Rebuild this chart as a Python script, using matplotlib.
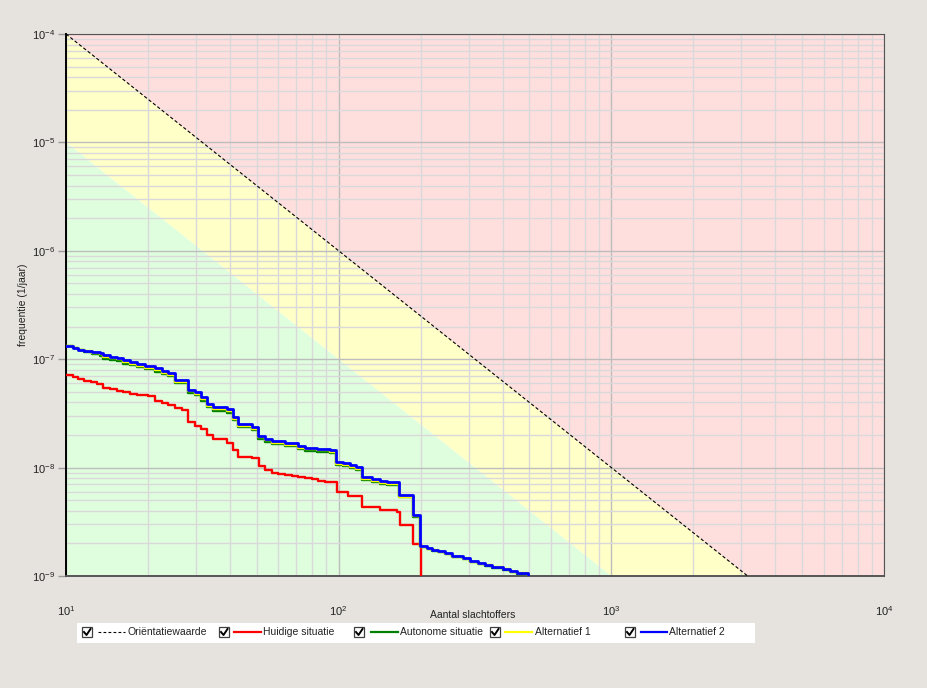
import matplotlib
matplotlib.use("Agg")
import matplotlib.pyplot as plt
from matplotlib.lines import Line2D
from matplotlib.patches import Rectangle
from matplotlib.ticker import NullFormatter
import numpy as np

plt.rcParams["font.family"] = ["Liberation Sans", "DejaVu Sans"]

W, H = 928, 688

# orientatiewaarde: F = C / N^2, yellow band one decade below it
ORIENT_C = 1e-2
BAND_C = 1e-3

# Alternatief 2 / Alternatief 1 / Autonome situatie share the same N steps
n_alt = [10, 10.6, 11.1, 11.6, 12.5, 13.3, 13.7, 14.5, 15.4, 16.2,
         17.2, 18.2, 19.5, 21.2, 22.5, 23.7, 25.1, 28.0, 29.7, 31.3,
         32.9, 34.6, 39.0, 41.0, 42.7, 48.1, 50.6, 53.7, 56.9, 63.6,
         70.9, 75.2, 83.3, 92.9, 97.7, 103.7, 110, 115.7, 121.7, 132.5,
         141.7, 150.4, 166.4, 187.3, 198.7, 210.8, 219.9, 231.3, 245.4, 260.3,
         285.7, 303, 324.2, 344, 364.9, 400.5, 424.9, 450.7, 494.5]

f_alt2 = [1.32, 1.27, 1.22, 1.19, 1.16, 1.14, 1.09, 1.05, 1.03, 0.98,
          0.94, 0.90, 0.865, 0.83, 0.78, 0.746, 0.643, 0.52, 0.498, 0.448,
          0.386, 0.362, 0.347, 0.293, 0.252, 0.237, 0.196, 0.184, 0.176, 0.169,
          0.158, 0.152, 0.149, 0.145, 0.113, 0.110, 0.106, 0.101, 0.082, 0.0785,
          0.0752, 0.0736, 0.0559, 0.0366, 0.0189, 0.0181, 0.0174, 0.0170, 0.0163, 0.0153,
          0.0147, 0.0138, 0.0132, 0.0126, 0.0121, 0.0116, 0.0111, 0.0107, 0.0100]

f_alt1 = [1.32, 1.27, 1.22, 1.18, 1.14, 1.11, 1.05, 1.015, 0.995, 0.945,
          0.905, 0.87, 0.835, 0.80, 0.75, 0.72, 0.62, 0.505, 0.48, 0.432,
          0.372, 0.35, 0.335, 0.283, 0.244, 0.229, 0.19, 0.178, 0.17, 0.163,
          0.153, 0.147, 0.144, 0.14, 0.109, 0.106, 0.102, 0.098, 0.079, 0.076,
          0.0727, 0.0712, 0.054, 0.0357, 0.0186, 0.0179, 0.0172, 0.0168, 0.0161, 0.0151,
          0.0145, 0.0136, 0.0130, 0.0125, 0.0120, 0.0115, 0.0110, 0.0106, 0.0100]

f_auto = [1.32, 1.27, 1.21, 1.17, 1.12, 1.08, 1.01, 0.98, 0.96, 0.91,
          0.875, 0.84, 0.805, 0.77, 0.725, 0.695, 0.60, 0.49, 0.465, 0.415,
          0.36, 0.336, 0.322, 0.272, 0.236, 0.22, 0.183, 0.171, 0.164, 0.158,
          0.148, 0.142, 0.139, 0.136, 0.106, 0.103, 0.0995, 0.095, 0.0775, 0.074,
          0.071, 0.0695, 0.053, 0.035, 0.0185, 0.0177, 0.0170, 0.0166, 0.0160, 0.0150,
          0.0144, 0.0135, 0.0129, 0.0124, 0.0119, 0.0114, 0.0109, 0.0105, 0.0100]

# Huidige situatie, drops to zero at N=200 (tiny value stands in for zero on log axis)
n_huidig = [10, 10.6, 11.1, 11.6, 12.4, 13.0, 13.7, 14.5, 15.4, 16.2,
            17.2, 18.2, 20.0, 21.2, 22.5, 23.7, 25.1, 26.6, 28.0, 29.7,
            31.3, 32.9, 34.6, 39.0, 41.0, 42.7, 48.1, 51.0, 53.7, 56.9,
            60.0, 63.6, 67.4, 70.9, 75.2, 79.8, 84.0, 89.1, 98.6, 108.2,
            121.7, 141.7, 163.6, 167.8, 187.3, 200]
f_huidig = [0.715, 0.685, 0.657, 0.629, 0.616, 0.590, 0.542, 0.531, 0.509, 0.498,
            0.478, 0.468, 0.458, 0.412, 0.394, 0.378, 0.355, 0.340, 0.264, 0.242,
            0.227, 0.200, 0.184, 0.169, 0.145, 0.125, 0.123, 0.104, 0.095, 0.089,
            0.088, 0.0855, 0.0837, 0.082, 0.080, 0.0785, 0.0752, 0.0736, 0.0596, 0.0547,
            0.0433, 0.0407, 0.0389, 0.0296, 0.0197, 1e-5]

labels = ["Oriëntatiewaarde", "Huidige situatie", "Autonome situatie",
          "Alternatief 1", "Alternatief 2"]
colors = ["black", "#FF0000", "#008000", "#FFFF00", "#0000FF"]


def fx(px):
    return px / W


def fy(py):
    return 1 - py / H


fig = plt.figure(figsize=(W / 100, H / 100), dpi=100, facecolor="#E6E3DE")
ax = fig.add_axes([fx(66), fy(576), fx(884) - fx(66), fy(34) - fy(576)])
ax.set_xscale("log")
ax.set_yscale("log")
ax.set_xlim(10, 1e4)
ax.set_ylim(1e-9, 1e-4)
ax.xaxis.set_minor_formatter(NullFormatter())
ax.yaxis.set_minor_formatter(NullFormatter())

# zones
nn = np.logspace(1, 4, 50)
upper = ORIENT_C / nn ** 2
lower = BAND_C / nn ** 2
ax.fill_between(nn, upper, 1e-4, color="#FFDEDE", lw=0, zorder=0)
ax.fill_between(nn, lower, upper, color="#FFFFC8", lw=0, zorder=0)
ax.fill_between(nn, 1e-9, lower, color="#DEFEDE", lw=0, zorder=0)

ax.grid(True, which="minor", color="#D9D9D9", lw=1, zorder=1)
ax.grid(True, which="major", color="#BDBDBD", lw=1, zorder=1)
ax.set_axisbelow(True)

ax.plot(nn, upper, color="black", lw=0.8, ls=(0, (3, 2)), zorder=3)

s = 1e-7
ax.step(n_huidig, np.array(f_huidig) * s, where="post", color=colors[1], lw=1.7, zorder=4)
ax.step(n_alt, np.array(f_auto) * s, where="post", color=colors[2], lw=1.7, zorder=4)
ax.step(n_alt, np.array(f_alt1) * s, where="post", color=colors[3], lw=1.7, zorder=4)
ax.step(n_alt, np.array(f_alt2) * s, where="post", color=colors[4], lw=2.0, zorder=5)

for side in ["top", "right"]:
    ax.spines[side].set_color("#555555")
    ax.spines[side].set_linewidth(0.8)
ax.spines["left"].set_color("black")
ax.spines["left"].set_linewidth(1.4)
ax.spines["bottom"].set_color("#555555")
ax.spines["bottom"].set_linewidth(1.4)

ax.tick_params(axis="x", which="both", length=0, pad=20, labelsize=8, colors="#222222")
ax.tick_params(axis="y", which="major", length=6, width=1, color="#999999", pad=2,
               labelsize=8, labelcolor="#222222")
ax.tick_params(axis="y", which="minor", length=0)

fig.text(fx(473), fy(615), "Aantal slachtoffers", fontsize=7.5, ha="center", va="center",
         color="#222222")
fig.text(fx(23), fy(305), "frequentie (1/jaar)", fontsize=7.5, ha="center", va="center",
         rotation=90, color="#222222")

# legend strip with checkboxes
fig.patches.append(Rectangle((fx(77), fy(643)), fx(755) - fx(77), fy(623) - fy(643),
                             transform=fig.transFigure, facecolor="white", edgecolor="none"))
box_x = [82, 219, 354, 490, 625]
line_x = [(98, 125), (234, 261), (371, 398), (505, 532), (641, 667)]
text_x = [128, 263, 400, 535, 669]
yc = 632
for i in range(5):
    bx = box_x[i]
    fig.patches.append(Rectangle((fx(bx), fy(yc + 5)), fx(10), 10 / H,
                                 transform=fig.transFigure, facecolor="white",
                                 edgecolor="#404040", lw=0.9))
    fig.lines.append(Line2D([fx(bx + 2), fx(bx + 4.5), fx(bx + 8.5)],
                            [fy(yc), fy(yc + 3), fy(yc - 3)],
                            transform=fig.transFigure, color="black", lw=1.4))
    x0, x1 = line_x[i]
    if i == 0:
        fig.lines.append(Line2D([fx(x0), fx(x1)], [fy(yc), fy(yc)], transform=fig.transFigure,
                                color="black", lw=0.8, ls=(0, (2.5, 2))))
    else:
        fig.lines.append(Line2D([fx(x0), fx(x1)], [fy(yc), fy(yc)], transform=fig.transFigure,
                                color=colors[i], lw=1.6))
    fig.text(fx(text_x[i]), fy(yc), labels[i], fontsize=7.5, va="center", ha="left",
             color="#222222")

plt.savefig("out.png", dpi=100, facecolor=fig.get_facecolor())
